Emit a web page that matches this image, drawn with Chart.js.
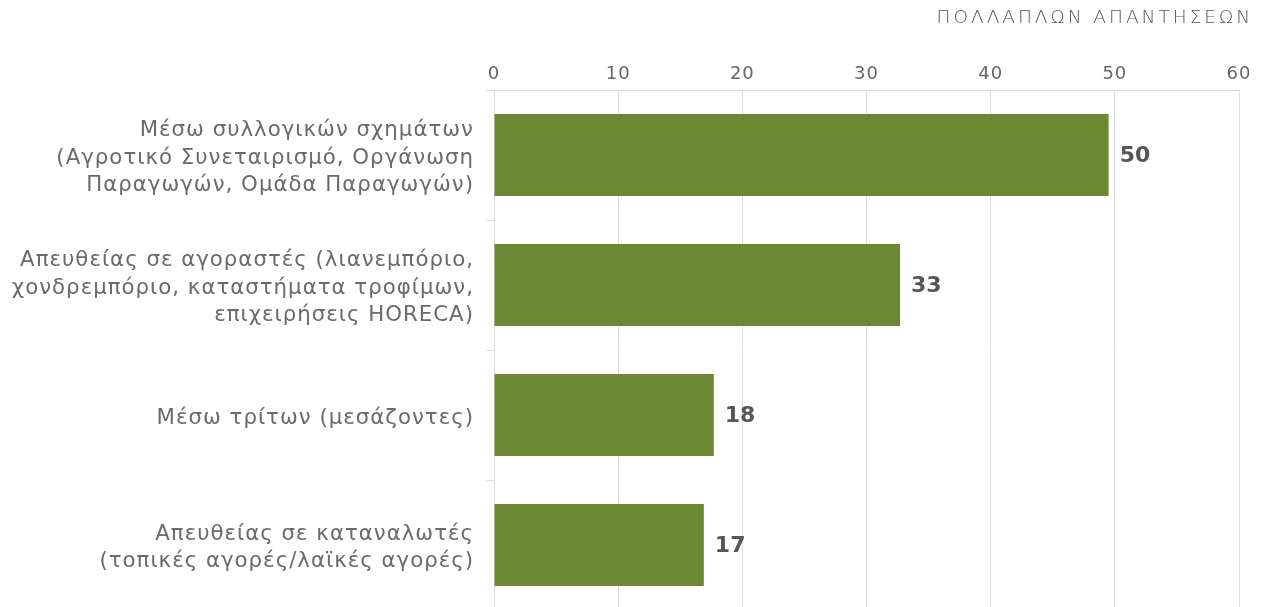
<!DOCTYPE html>
<html>
<head>
<meta charset="utf-8">
<script src="https://cdn.jsdelivr.net/npm/chart.js@4/dist/chart.umd.min.js"></script>
<style>
  html, body { margin: 0; padding: 0; background: #fff; overflow: hidden; }
</style>
</head>
<body>
<canvas id="chartChannels" width="1263" height="610"></canvas>
<script>
// categories (each one split into its lines)
let categories = [
    ['Μέσω συλλογικών σχημάτων', '(Αγροτικό Συνεταιρισμό, Οργάνωση', 'Παραγωγών, Ομάδα Παραγωγών)'],
    ['Απευθείας σε αγοραστές (λιανεμπόριο,', 'χονδρεμπόριο, καταστήματα τροφίμων,', 'επιχειρήσεις HORECA)'],
    ['Μέσω τρίτων (μεσάζοντες)'],
    ['Απευθείας σε καταναλωτές', '(τοπικές αγορές/λαϊκές αγορές)']
];
let values = [49.5, 32.7, 17.7, 16.9];
let valueLabels = ['50', '33', '18', '17'];
let xTicks = [0, 10, 20, 30, 40, 50, 60];
let titleText = 'ΠΟΛΛΑΠΛΩΝ ΑΠΑΝΤΗΣΕΩΝ';

let fontFamily = '"DejaVu Sans", sans-serif';
let gridColor = '#dedede';

// wider letter spacing for the axis texts (the original font is a wide one)
let spacingPlugin = {
    id: 'spacing',
    beforeDraw(chart) { chart.ctx.letterSpacing = '1px'; },
    afterDraw(chart) { chart.ctx.letterSpacing = '0px'; }
};

// value labels at the end of every bar + title top right
let extrasPlugin = {
    id: 'extras',
    afterDatasetsDraw(chart) {
        let ctx = chart.ctx;
        let meta = chart.getDatasetMeta(0);
        ctx.save();
        ctx.letterSpacing = '0px';
        ctx.font = 'bold 22px ' + fontFamily;
        ctx.fillStyle = '#575757';
        ctx.textAlign = 'left';
        ctx.textBaseline = 'middle';
        meta.data.forEach((bar, i) => {
            ctx.fillText(valueLabels[i], bar.x + 11, bar.y + 1);
        });
        ctx.font = '200 18.5px ' + fontFamily;
        ctx.fillStyle = '#555';
        ctx.textAlign = 'right';
        ctx.letterSpacing = '3px';
        ctx.fillText(titleText, chart.width - 10, 18);
        ctx.restore();
    }
};

let context = document.querySelector('#chartChannels').getContext('2d');

let config = {
    type: 'bar',
    data: {
        labels: categories,
        datasets: [{
            data: values,
            backgroundColor: '#6d8833',
            categoryPercentage: 1,
            barPercentage: 0.63
        }]
    },
    options: {
        indexAxis: 'y',
        responsive: false,
        animation: false,
        layout: { padding: { right: 24, top: 0, bottom: 0, left: 0 } },
        plugins: {
            legend: { display: false },
            tooltip: { enabled: false }
        },
        scales: {
            x: {
                position: 'top',
                min: 0,
                max: 60,
                afterBuildTicks: (scale) => { scale.ticks = xTicks.map(v => ({ value: v })); },
                afterFit: (scale) => { scale.height = 90; },
                grid: { color: gridColor, drawTicks: false, lineWidth: 1 },
                border: { color: gridColor },
                ticks: {
                    padding: 5,
                    color: '#666',
                    font: { family: fontFamily, size: 18, weight: 'normal' }
                }
            },
            y: {
                afterFit: (scale) => {
                    scale.width = 494;
                    scale.paddingTop = 0;
                    scale.paddingBottom = 0;
                },
                grid: { offset: true, drawOnChartArea: false, tickLength: 8, color: gridColor },
                border: { color: gridColor },
                ticks: {
                    padding: 12,
                    labelOffset: 3,
                    color: '#6a6a6a',
                    font: { family: fontFamily, size: 21.3, lineHeight: 1.3 }
                }
            }
        }
    },
    plugins: [spacingPlugin, extrasPlugin]
};

let chartChannels = new Chart(context, config);
</script>
</body>
</html>
